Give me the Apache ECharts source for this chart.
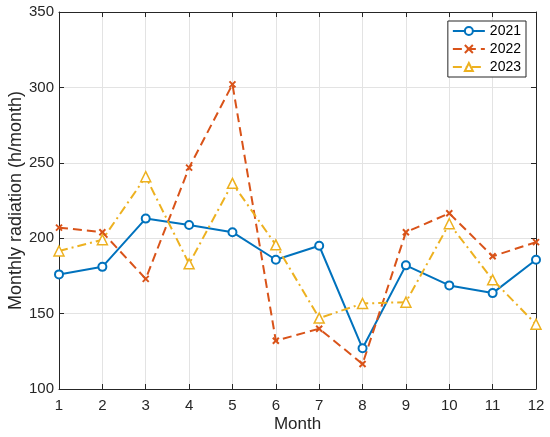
<!DOCTYPE html>
<html>
<head>
<meta charset="utf-8">
<script src="https://cdn.jsdelivr.net/npm/echarts@6/dist/echarts.min.js"></script>
</head>
<body style="margin:0;background:#fff">
<div id="main" style="width:550px;height:437px;"></div>
<script type="text/javascript">
var months = [1, 2, 3, 4, 5, 6, 7, 8, 9, 10, 11, 12];
var years = ['2021', '2022', '2023'];
var r2021 = [176, 181, 213, 208.7, 204, 185.7, 195, 127, 182, 168.7, 163.6, 185.7];
var r2022 = [207, 204, 173, 246.8, 302, 132, 140, 116.6, 204, 216.5, 188, 197.4];
var r2023 = [191.5, 199, 240.8, 183, 236.4, 195.6, 147, 156.7, 157.6, 209.6, 172.4, 143];

var font = 'Liberation Sans';
var crossPath = 'path://M0,0L10,10M10,0L0,10';

function pairs(vals) {
  return vals.map(function (v, i) { return [months[i], v]; });
}

var myChart = echarts.init(document.getElementById('main'));

var axisBase = {
  axisLine: { show: true, onZero: false, lineStyle: { color: '#262626', width: 1 } },
  axisTick: { show: true, inside: true, length: 5, lineStyle: { color: '#262626' } },
  splitLine: { show: false },
  axisLabel: { show: false }
};

option = {
  animation: false,
  textStyle: { fontFamily: font },
  grid: { left: 59, right: 14, top: 12, bottom: 48, outerBoundsMode: 'none', containLabel: false },
  legend: {
    data: years,
    orient: 'vertical',
    right: 24,
    top: 21,
    itemWidth: 32,
    itemHeight: 10,
    itemGap: 4,
    padding: [3, 5, 3, 4],
    borderColor: '#262626',
    borderWidth: 1,
    backgroundColor: '#fff',
    textStyle: { fontSize: 14, color: '#000', fontFamily: font }
  },
  xAxis: [{
    type: 'value', min: 1, max: 12, interval: 1,
    name: 'Month', nameLocation: 'middle', nameGap: 27, nameMoveOverlap: false,
    nameTextStyle: { fontSize: 17, color: '#262626' },
    axisLine: { show: true, onZero: false, lineStyle: { color: '#262626' } },
    axisTick: { show: true, inside: true, length: 5, lineStyle: { color: '#262626' } },
    axisLabel: { fontSize: 15, color: '#262626', margin: 9 },
    splitLine: { show: true, lineStyle: { color: '#e3e3e3' } }
  }, Object.assign({ type: 'value', min: 1, max: 12, interval: 1, position: 'top' }, axisBase)],
  yAxis: [{
    type: 'value', min: 100, max: 350, interval: 50,
    name: 'Monthly radiation (h/month)', nameLocation: 'middle', nameGap: 34, nameMoveOverlap: false,
    nameTextStyle: { fontSize: 18, color: '#262626' },
    axisLine: { show: true, onZero: false, lineStyle: { color: '#262626' } },
    axisTick: { show: true, inside: true, length: 5, lineStyle: { color: '#262626' } },
    axisLabel: { fontSize: 15, color: '#262626', margin: 5 },
    splitLine: { show: true, lineStyle: { color: '#e3e3e3' } }
  }, Object.assign({ type: 'value', min: 100, max: 350, interval: 50, position: 'right' }, axisBase)],
  series: [{
    name: '2021', type: 'line', data: pairs(r2021),
    symbol: 'emptyCircle', symbolSize: 8,
    itemStyle: { color: '#0072BD', borderWidth: 1.5 },
    lineStyle: { color: '#0072BD', width: 2 }
  }, {
    name: '2022', type: 'line', data: pairs(r2022),
    symbol: crossPath, symbolSize: 6,
    itemStyle: { color: '#D95319', borderColor: '#D95319', borderWidth: 2 },
    lineStyle: { color: '#D95319', width: 2, type: [9, 5] }
  }, {
    name: '2023', type: 'line', data: pairs(r2023),
    symbol: 'triangle', symbolSize: 10,
    itemStyle: { color: '#fff', borderColor: '#EDB120', borderWidth: 1.5 },
    lineStyle: { color: '#EDB120', width: 2, type: [9, 4, 2, 4] }
  }]
};

myChart.setOption(option);
</script>
</body>
</html>
